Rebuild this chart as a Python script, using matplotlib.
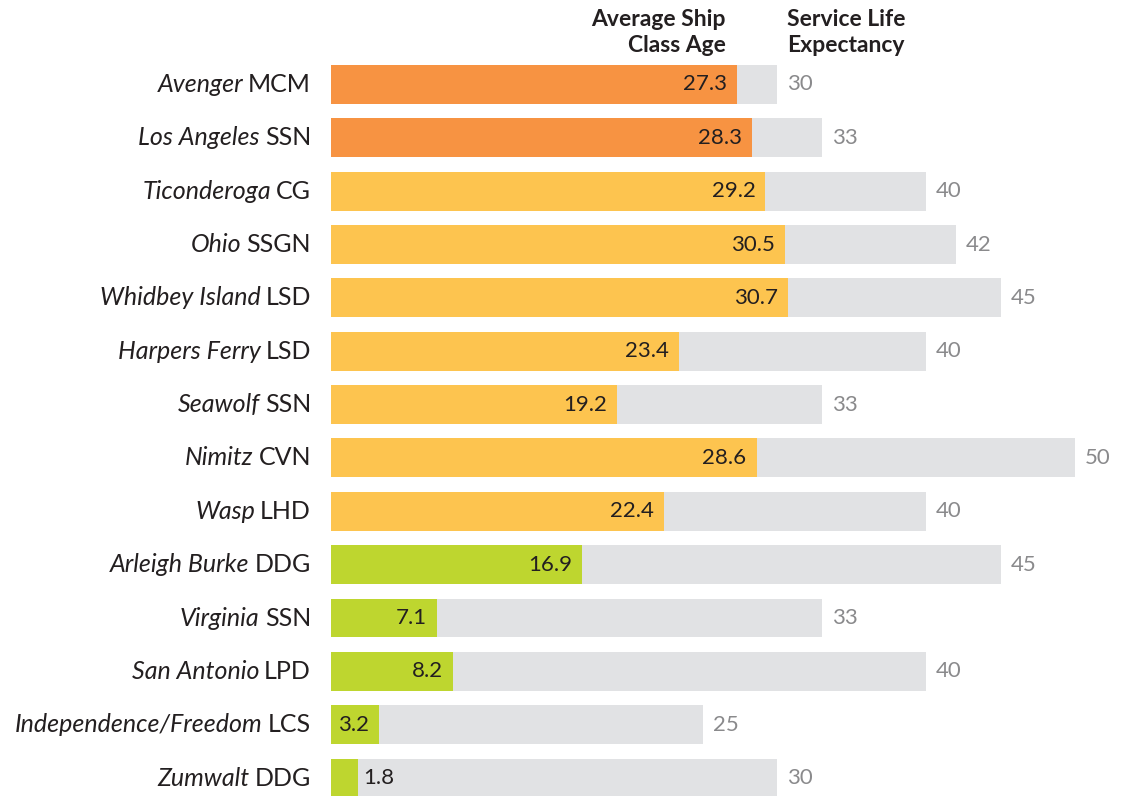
import matplotlib.pyplot as plt

# ship classes: italic name part, hull type suffix
CLASS_NAMES = [
    "Avenger", "Los Angeles", "Ticonderoga", "Ohio", "Whidbey Island",
    "Harpers Ferry", "Seawolf", "Nimitz", "Wasp", "Arleigh Burke",
    "Virginia", "San Antonio", "Independence/Freedom", "Zumwalt",
]
HULL_TYPES = [
    "MCM", "SSN", "CG", "SSGN", "LSD", "LSD", "SSN", "CVN", "LHD", "DDG",
    "SSN", "LPD", "LCS", "DDG",
]
AVG_AGE = [27.3, 28.3, 29.2, 30.5, 30.7, 23.4, 19.2, 28.6, 22.4, 16.9, 7.1, 8.2, 3.2, 1.8]
SERVICE_LIFE = [30, 33, 40, 42, 45, 40, 33, 50, 40, 45, 33, 40, 25, 30]
STATUS = ["old"] * 2 + ["mid"] * 7 + ["new"] * 5

COLORS = {"old": "#F79342", "mid": "#FDC44F", "new": "#BED62F"}
GRAY_BAR = "#E1E2E4"
DARK = "#231F20"
GRAY_TEXT = "#8A8A8C"
FONT = "Lato"

W, H = 1123, 796
fig = plt.figure(figsize=(W / 100, H / 100), dpi=100)

# axes placed in pixel terms: bars start at x=331, rows 53.3 px apart
left_px = 331
px_per_unit = 14.88
row_px = 53.35
first_row_px = 84.5
ax = fig.add_axes([left_px / W, 0, 1 - left_px / W, 1])
ax.set_xlim(0, (W - left_px) / px_per_unit)
ax.set_ylim((H - first_row_px) / row_px, -first_row_px / row_px)
ax.axis("off")

ypos = list(range(len(CLASS_NAMES)))
ax.barh(ypos, SERVICE_LIFE, height=0.73, color=GRAY_BAR, zorder=1)
ax.barh(ypos, AVG_AGE, height=0.73, color=[COLORS[s] for s in STATUS], zorder=2)

num_fs = 16
label_fs = 18
for y, age, life in zip(ypos, AVG_AGE, SERVICE_LIFE):
    if age >= 3:
        ax.annotate(f"{age:.1f}", (age, y), xytext=(-10, 0), textcoords="offset pixels",
                    ha="right", va="center", fontsize=num_fs, color=DARK, family=FONT, zorder=3)
    else:
        ax.annotate(f"{age:.1f}", (age, y), xytext=(5, 0), textcoords="offset pixels",
                    ha="left", va="center", fontsize=num_fs, color=DARK, family=FONT, zorder=3)
    ax.annotate(f"{life}", (life, y), xytext=(10, 0), textcoords="offset pixels",
                ha="left", va="center", fontsize=num_fs, color=GRAY_TEXT, family=FONT)

# row labels: roman hull type right-aligned, italic class name to its left
for y, name, hull in zip(ypos, CLASS_NAMES, HULL_TYPES):
    suffix = ax.annotate(hull, (0, y), xytext=(-20, 0), textcoords="offset pixels",
                         ha="right", va="center", fontsize=label_fs, color=DARK, family=FONT)
    ax.annotate(name, xy=(0, 0.5), xycoords=suffix, xytext=(-5, 0),
                textcoords="offset pixels", ha="right", va="center",
                fontsize=label_fs, color=DARK, family=FONT, style="italic")

fig.text(726 / W, 1 - 9 / H, "Average Ship\nClass Age", ha="right", va="top",
         fontsize=16.5, fontweight="bold", color=DARK, family=FONT, linespacing=1.3)
fig.text(787 / W, 1 - 9 / H, "Service Life\nExpectancy", ha="left", va="top",
         fontsize=16.5, fontweight="bold", color=DARK, family=FONT, linespacing=1.3)

fig.savefig("out.png", dpi=100)
